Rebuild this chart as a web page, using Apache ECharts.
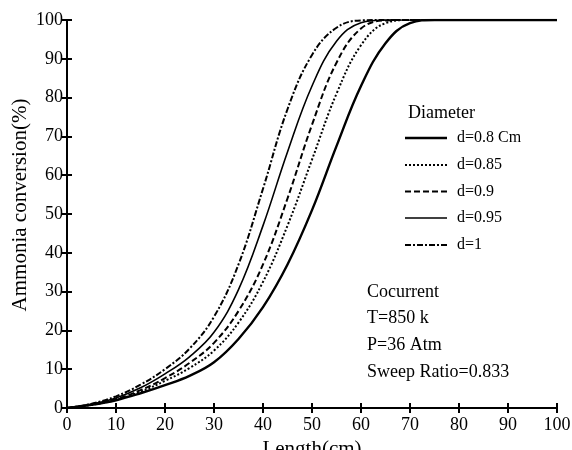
<!DOCTYPE html>
<html>
<head>
<meta charset="utf-8">
<script src="https://cdn.jsdelivr.net/npm/echarts@6/dist/echarts.min.js"></script>
<style>
  html, body { margin: 0; padding: 0; background: #fff; }
  #chart { width: 572px; height: 450px; }
</style>
</head>
<body>
<div id="chart"></div>
<script>
// Reactor length (cm) at which conversion is sampled
const lengths = [0, 5, 10, 15, 20, 25, 30, 35, 40, 45, 50, 55, 60, 65, 70, 75, 80, 90, 100];

// Ammonia conversion (%) for each tube diameter
const conv_d080 = [0, 0.8, 2.0, 3.8, 5.9, 8.3, 11.8, 17.8, 26, 37, 51, 67.5, 83, 94, 99.2, 100, 100, 100, 100];
const conv_d085 = [0, 0.8, 2.1, 4.2, 7.0, 10.3, 14.8, 22, 32.5, 47, 64, 81, 93.5, 99.2, 100, 100, 100, 100, 100];
const conv_d090 = [0, 0.9, 2.3, 4.6, 7.7, 11.6, 16.8, 25, 37, 54, 73, 89, 97.8, 99.9, 100, 100, 100, 100, 100];
const conv_d095 = [0, 1.0, 2.6, 5.2, 8.8, 13.2, 19.5, 30.5, 47, 66, 83, 94.5, 99.3, 100, 100, 100, 100, 100, 100];
const conv_d100 = [0, 1.1, 3.0, 6.0, 10.0, 15.3, 23.5, 37, 56.5, 77, 91, 98, 99.9, 100, 100, 100, 100, 100, 100];

const seriesNames = ['d=0.8 Cm', 'd=0.85', 'd=0.9', 'd=0.95', 'd=1'];
const seriesValues = [conv_d080, conv_d085, conv_d090, conv_d095, conv_d100];

const xTicks = [0, 10, 20, 30, 40, 50, 60, 70, 80, 90, 100];
const yTicks = [0, 10, 20, 30, 40, 50, 60, 70, 80, 90, 100];

const legendTitle = 'Diameter';
const notes = ['Cocurrent', 'T=850 k', 'P=36 Atm', 'Sweep Ratio=0.833'];

const FONT = '"Liberation Serif", "DejaVu Serif", serif';

// stroke width and dash pattern per diameter
const lineStyles = [
  { width: 2.4, dash: null },
  { width: 2, dash: [2, 2] },
  { width: 2, dash: [6, 3] },
  { width: 1.6, dash: null },
  { width: 2, dash: [6, 2, 2, 2] }
];

const pair = vals => lengths.map((x, i) => [x, vals[i]]);

const chart = echarts.init(document.getElementById('chart'), null, { renderer: 'canvas' });

const axisCommon = {
  type: 'value',
  min: 0,
  max: 100,
  interval: 10,
  splitLine: { show: false },
  axisLine: { show: true, lineStyle: { color: '#000', width: 2 } },
  axisTick: { show: true, inside: true, length: 5, lineStyle: { color: '#000', width: 2 } }
};

// legend key: short line sample followed by the diameter label
const legendRowY = [138, 165, 191.5, 218, 245];
const legendGraphics = [];
seriesNames.forEach((name, i) => {
  const st = lineStyles[i];
  legendGraphics.push({
    type: 'line',
    shape: { x1: 405, y1: legendRowY[i], x2: 447, y2: legendRowY[i] },
    style: { stroke: '#000', lineWidth: st.width, lineDash: st.dash || null }
  });
  legendGraphics.push({
    type: 'text', x: 457, y: legendRowY[i],
    style: { text: name, font: '16px ' + FONT, fill: '#000', verticalAlign: 'middle' }
  });
});

chart.setOption({
  animation: false,
  backgroundColor: '#fff',
  grid: { left: 67, right: 15, top: 20, bottom: 42, outerBoundsMode: 'none', containLabel: false },
  xAxis: [
    Object.assign({}, axisCommon, {
      position: 'bottom',
      name: 'Length(cm)',
      nameLocation: 'middle',
      nameGap: 29,
      nameTextStyle: { fontFamily: FONT, fontSize: 21, color: '#000' },
      axisLabel: { fontFamily: FONT, fontSize: 18, color: '#000', margin: 8,
        formatter: v => xTicks.includes(v) ? String(v) : '' }
    }),
    Object.assign({}, axisCommon, { position: 'top', axisLabel: { show: false } })
  ],
  yAxis: [
    Object.assign({}, axisCommon, {
      position: 'left',
      axisLabel: { fontFamily: FONT, fontSize: 18, color: '#000', margin: 4,
        formatter: v => yTicks.includes(v) ? String(v) : '' }
    }),
    Object.assign({}, axisCommon, { position: 'right', axisLabel: { show: false } })
  ],
  graphic: [
    { type: 'text', x: 20, y: 205, rotation: Math.PI / 2,
      style: { text: 'Ammonia conversion(%)', font: '21px ' + FONT, fill: '#000',
        align: 'center', verticalAlign: 'middle' } },
    { type: 'text', x: 408, y: 113,
      style: { text: legendTitle, font: '18px ' + FONT, fill: '#000', verticalAlign: 'middle' } }
  ].concat(legendGraphics).concat(notes.map((t, i) => ({
    type: 'text', x: 367, y: 292 + i * 26.7,
    style: { text: t, font: '18px ' + FONT, fill: '#000', verticalAlign: 'middle' }
  }))),
  series: seriesNames.map((name, i) => ({
    name: name,
    type: 'line',
    smooth: 0.4,
    showSymbol: false,
    symbol: 'none',
    color: '#000',
    lineStyle: { color: '#000', width: lineStyles[i].width, type: lineStyles[i].dash || 'solid' },
    data: pair(seriesValues[i])
  }))
});
</script>
</body>
</html>
